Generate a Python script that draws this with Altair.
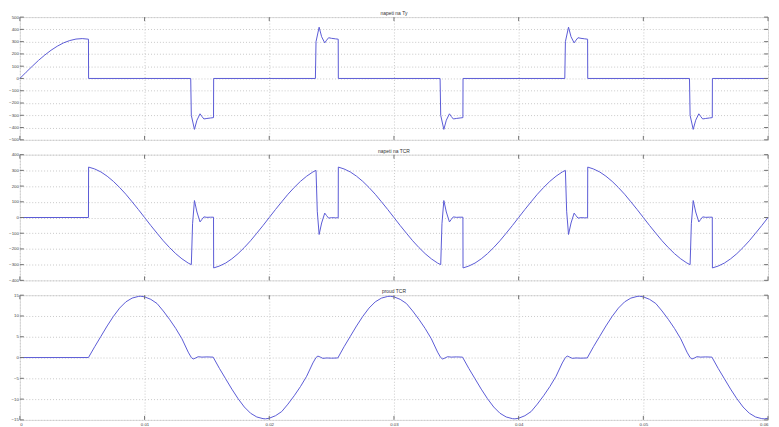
import altair as alt
import pandas as pd

# ---------------- data ----------------
TITLES = ["napeti na Ty", "napeti na TCR", "proud TCR"]

X_TICKS = [0, 0.01, 0.02, 0.03, 0.04, 0.05, 0.06]
Y1_TICKS = [-500, -400, -300, -200, -100, 0, 100, 200, 300, 400, 500]
Y2_TICKS = [-400, -300, -200, -100, 0, 100, 200, 300, 400]
Y3_TICKS = [-15, -10, -5, 0, 5, 10, 15]

# panel 1: voltage across thyristor
t1 = [0, 0.0005, 0.001, 0.0015, 0.002, 0.0025, 0.003, 0.0035, 0.004, 0.0045, 0.005, 0.0055, 0.00551,
      0.0137, 0.01375, 0.014, 0.0142, 0.01445, 0.0146, 0.01476, 0.015, 0.0153, 0.01553, 0.01554,
      0.0237, 0.02375, 0.024, 0.0242, 0.02445, 0.0246, 0.02476, 0.025, 0.0253, 0.02553, 0.02554,
      0.0337, 0.03375, 0.034, 0.0342, 0.03445, 0.0346, 0.03476, 0.035, 0.0353, 0.03553, 0.03554,
      0.0437, 0.04375, 0.044, 0.0442, 0.04445, 0.0446, 0.04476, 0.045, 0.0453, 0.04553, 0.04554,
      0.0537, 0.05375, 0.054, 0.0542, 0.05445, 0.0546, 0.05476, 0.055, 0.0553, 0.05553, 0.05554,
      0.06]
v1 = [0, 51, 100, 148, 191, 230, 263, 290, 309, 321, 325, 320, 0,
      0, -300, -415, -340, -288, -310, -330, -326, -322, -319, 0,
      0, 300, 418, 340, 290, 312, 332, 327, 323, 320, 0,
      0, -300, -415, -340, -288, -310, -330, -326, -322, -319, 0,
      0, 300, 418, 340, 290, 312, 332, 327, 323, 320, 0,
      0, -300, -415, -340, -288, -310, -330, -326, -322, -319, 0,
      0]

# panel 2: voltage across TCR
t2 = [0, 0.0055,
      0.00551, 0.006, 0.0065, 0.007, 0.0075, 0.008, 0.0085, 0.009, 0.0095, 0.01, 0.0105, 0.011, 0.0115, 0.012, 0.0125, 0.013, 0.0135, 0.01375,
      0.01385, 0.014, 0.0142, 0.01445, 0.0146, 0.01476, 0.015, 0.0153, 0.01553,
      0.01554, 0.016, 0.0165, 0.017, 0.0175, 0.018, 0.0185, 0.019, 0.0195, 0.02, 0.0205, 0.021, 0.0215, 0.022, 0.0225, 0.023, 0.0235, 0.02375,
      0.02385, 0.024, 0.0242, 0.02445, 0.0246, 0.02476, 0.025, 0.0253, 0.02553,
      0.02554, 0.026, 0.0265, 0.027, 0.0275, 0.028, 0.0285, 0.029, 0.0295, 0.03, 0.0305, 0.031, 0.0315, 0.032, 0.0325, 0.033, 0.0335, 0.03375,
      0.03385, 0.034, 0.0342, 0.03445, 0.0346, 0.03476, 0.035, 0.0353, 0.03553,
      0.03554, 0.036, 0.0365, 0.037, 0.0375, 0.038, 0.0385, 0.039, 0.0395, 0.04, 0.0405, 0.041, 0.0415, 0.042, 0.0425, 0.043, 0.0435, 0.04375,
      0.04385, 0.044, 0.0442, 0.04445, 0.0446, 0.04476, 0.045, 0.0453, 0.04553,
      0.04554, 0.046, 0.0465, 0.047, 0.0475, 0.048, 0.0485, 0.049, 0.0495, 0.05, 0.0505, 0.051, 0.0515, 0.052, 0.0525, 0.053, 0.0535, 0.05375,
      0.05385, 0.054, 0.0542, 0.05445, 0.0546, 0.05476, 0.055, 0.0553, 0.05553,
      0.05554, 0.056, 0.0565, 0.057, 0.0575, 0.058, 0.0585, 0.059, 0.0595, 0.06]
v2 = [0, 0,
      321, 309, 290, 263, 230, 191, 148, 100, 51, 0, -51, -100, -148, -191, -230, -263, -290, -300,
      -40, 108, 35, -28, -12, 4, 1, 2, 2,
      -321, -309, -290, -263, -230, -191, -148, -100, -51, 0, 51, 100, 148, 191, 230, 263, 290, 300,
      40, -108, -35, 28, 12, -4, -1, -2, -2,
      321, 309, 290, 263, 230, 191, 148, 100, 51, 0, -51, -100, -148, -191, -230, -263, -290, -300,
      -40, 108, 35, -28, -12, 4, 1, 2, 2,
      -321, -309, -290, -263, -230, -191, -148, -100, -51, 0, 51, 100, 148, 191, 230, 263, 290, 300,
      40, -108, -35, 28, 12, -4, -1, -2, -2,
      321, 309, 290, 263, 230, 191, 148, 100, 51, 0, -51, -100, -148, -191, -230, -263, -290, -300,
      -40, 108, 35, -28, -12, 4, 1, 2, 2,
      -321, -309, -290, -263, -230, -191, -148, -100, -51, 0]

# panel 3: TCR current
t3 = [0,
      0.0055, 0.006, 0.0065, 0.007, 0.0075, 0.008, 0.0085, 0.009, 0.0095, 0.0097, 0.01, 0.0105, 0.011, 0.0115, 0.012, 0.0125, 0.013, 0.0135, 0.01375,
      0.0139, 0.0141, 0.0143, 0.0146, 0.015,
      0.0155, 0.016, 0.0165, 0.017, 0.0175, 0.018, 0.0185, 0.019, 0.0195, 0.0197, 0.02, 0.0205, 0.021, 0.0215, 0.022, 0.0225, 0.023, 0.0235, 0.02375,
      0.0239, 0.0241, 0.0243, 0.0246, 0.025,
      0.0255, 0.026, 0.0265, 0.027, 0.0275, 0.028, 0.0285, 0.029, 0.0295, 0.0297, 0.03, 0.0305, 0.031, 0.0315, 0.032, 0.0325, 0.033, 0.0335, 0.03375,
      0.0339, 0.0341, 0.0343, 0.0346, 0.035,
      0.0355, 0.036, 0.0365, 0.037, 0.0375, 0.038, 0.0385, 0.039, 0.0395, 0.0397, 0.04, 0.0405, 0.041, 0.0415, 0.042, 0.0425, 0.043, 0.0435, 0.04375,
      0.0439, 0.0441, 0.0443, 0.0446, 0.045,
      0.0455, 0.046, 0.0465, 0.047, 0.0475, 0.048, 0.0485, 0.049, 0.0495, 0.0497, 0.05, 0.0505, 0.051, 0.0515, 0.052, 0.0525, 0.053, 0.0535, 0.05375,
      0.0539, 0.0541, 0.0543, 0.0546, 0.055,
      0.0555, 0.056, 0.0565, 0.057, 0.0575, 0.058, 0.0585, 0.059, 0.0595, 0.0597, 0.06]
v3 = [0,
      0, 2.6, 5.1, 7.6, 9.9, 11.9, 13.4, 14.3, 14.7, 14.75, 14.6, 14.0, 13.0, 11.2, 9.2, 7.0, 4.5, 1.3, 0,
      -0.35, -0.1, 0.2, 0.1, 0.15,
      0.1, -2.6, -5.1, -7.6, -9.9, -11.9, -13.4, -14.3, -14.7, -14.75, -14.6, -14.0, -13.0, -11.2, -9.2, -7.0, -4.5, -1.3, 0,
      0.35, 0.1, -0.2, -0.1, -0.15,
      -0.1, 2.6, 5.1, 7.6, 9.9, 11.9, 13.4, 14.3, 14.7, 14.75, 14.6, 14.0, 13.0, 11.2, 9.2, 7.0, 4.5, 1.3, 0,
      -0.35, -0.1, 0.2, 0.1, 0.15,
      0.1, -2.6, -5.1, -7.6, -9.9, -11.9, -13.4, -14.3, -14.7, -14.75, -14.6, -14.0, -13.0, -11.2, -9.2, -7.0, -4.5, -1.3, 0,
      0.35, 0.1, -0.2, -0.1, -0.15,
      -0.1, 2.6, 5.1, 7.6, 9.9, 11.9, 13.4, 14.3, 14.7, 14.75, 14.6, 14.0, 13.0, 11.2, 9.2, 7.0, 4.5, 1.3, 0,
      -0.35, -0.1, 0.2, 0.1, 0.15,
      0.1, -2.6, -5.1, -7.6, -9.9, -11.9, -13.4, -14.3, -14.7, -14.75, -14.6]

# ---------------- styling ----------------
W = 756
FONT = "Liberation Sans"
LINE = "#5a5ad6"
GRID = "#c8c8c8"
TICK = "#707070"
LFS = 4.4


def panel(t, v, title, ydom, yticks, h, show_x):
    df = pd.DataFrame({"t": t, "v": v, "i": list(range(len(t)))})
    xs = alt.Scale(domain=[0, 0.06], nice=False, zero=False)
    ys = alt.Scale(domain=ydom, nice=False, zero=False)
    xaxis = alt.Axis(values=X_TICKS, grid=True, gridColor=GRID, gridDash=[1, 2], gridWidth=1,
                     domain=False, ticks=False, labels=show_x, labelFontSize=LFS, labelFont=FONT,
                     labelColor="#444", labelPadding=2.5, labelFlush=True,
                     labelExpr="datum.value == 0 ? '0' : format(datum.value, '.2f')", title=None)
    yaxis = alt.Axis(values=yticks, grid=True, gridColor=GRID, gridDash=[1, 2], gridWidth=1,
                     domain=False, ticks=False, labelFontSize=LFS, labelFont=FONT, labelColor="#444",
                     labelPadding=1.5, minExtent=10, maxExtent=10, title=None)
    X = alt.X("t:Q", scale=xs, axis=xaxis)
    Y = alt.Y("v:Q", scale=ys, axis=yaxis)
    line = alt.Chart(df).mark_line(color=LINE, strokeWidth=1).encode(x=X, y=Y, order="i:Q")
    ydf = pd.DataFrame({"v": yticks})
    xdf = pd.DataFrame({"t": X_TICKS})
    yl = alt.Chart(ydf).mark_rule(color=TICK, strokeWidth=1).encode(
        y=Y, x=alt.value(0), x2=alt.value(4))
    yr = alt.Chart(ydf).mark_rule(color=TICK, strokeWidth=1).encode(
        y=Y, x=alt.value(W - 4), x2=alt.value(W))
    xt = alt.Chart(xdf).mark_rule(color=TICK, strokeWidth=1).encode(
        x=X, y=alt.value(0), y2=alt.value(4))
    xb = alt.Chart(xdf).mark_rule(color=TICK, strokeWidth=1).encode(
        x=X, y=alt.value(h - 4), y2=alt.value(h))
    return alt.layer(line, yl, yr, xt, xb).properties(
        width=W, height=h,
        title=alt.TitleParams(title, fontSize=5, font=FONT, fontWeight="normal", color="#333",
                              offset=-2, anchor="middle"),
    )


p1 = panel(t1, v1, TITLES[0], [-500, 500], Y1_TICKS, 124, False)
p2 = panel(t2, v2, TITLES[1], [-400, 400], Y2_TICKS, 127, False)
p3 = panel(t3, v3, TITLES[2], [-15, 15], Y3_TICKS, 126, True)

chart = alt.vconcat(p1, p2, p3, spacing=6).properties(
    padding={"left": 0, "top": 0, "right": 0, "bottom": 0}
).configure_view(stroke="#8a8a8a", strokeWidth=1).configure(background="white")

chart.save("out.html", embed_options={"renderer": "svg", "actions": False})
